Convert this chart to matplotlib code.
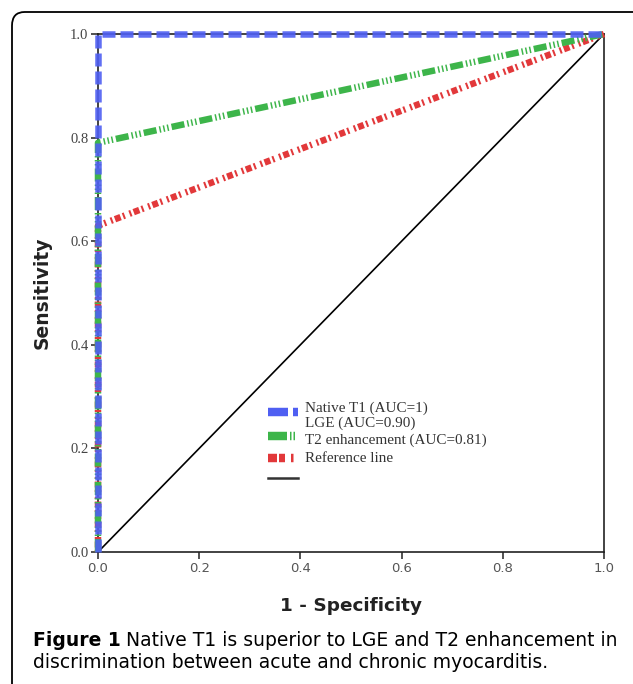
import matplotlib
matplotlib.use("Agg")
import matplotlib.pyplot as plt
from matplotlib.patches import FancyBboxPatch

plt.rcParams['lines.scale_dashes'] = False

# ROC curves (1 - specificity, sensitivity)
native_x = [0.0, 0.0, 1.0]
native_y = [0.0, 1.0, 1.0]
lge_x = [0.0, 0.0, 1.0]
lge_y = [0.0, 0.79, 1.0]
t2_x = [0.0, 0.0, 1.0]
t2_y = [0.0, 0.63, 1.0]
ref_x = [0.0, 1.0]
ref_y = [0.0, 1.0]

legend_labels = ['Native T1 (AUC=1)', 'LGE (AUC=0.90)',
                 'T2 enhancement (AUC=0.81)', 'Reference line']
ticks = [0.0, 0.2, 0.4, 0.6, 0.8, 1.0]

blue = '#4f5ff2'
green = '#3db54a'
red = '#e2383a'

PX = 0.72  # points per pixel at dpi 100
lw = 6.5 * PX
blue_dash = [13 * PX, 5 * PX]
green_dash = [13 * PX, 3 * PX, 1.5 * PX, 2.5 * PX, 1.5 * PX, 2.5 * PX, 1.5 * PX, 3 * PX]
red_dash = [2 * PX, 2.5 * PX, 6 * PX, 2.5 * PX, 2 * PX, 5 * PX]

fig = plt.figure(figsize=(6.33, 6.84), dpi=100)

# rounded frame around the figure (right and bottom edges run off the image)
frame = FancyBboxPatch((12 / 633, -0.05), 1.2, 1 - 12 / 684 + 0.05,
                       boxstyle='round,pad=0,rounding_size=0.02',
                       transform=fig.transFigure, fill=False,
                       edgecolor='black', linewidth=1.3, clip_on=False)
fig.patches.append(frame)

ax = fig.add_axes([98 / 633, 1 - 552 / 684, 506 / 633, 518 / 684])

ax.plot(ref_x, ref_y, color='black', linewidth=1.2, zorder=2)
ax.plot(t2_x, t2_y, color=red, linewidth=lw, dashes=red_dash, clip_on=False, zorder=3)
ax.plot(lge_x, lge_y, color=green, linewidth=lw, dashes=green_dash, clip_on=False, zorder=4)
ax.plot(native_x, native_y, color=blue, linewidth=lw, dashes=blue_dash, clip_on=False,
        alpha=0.9, zorder=5)

ax.set_xlim(0, 1)
ax.set_ylim(0, 1)
ax.set_xticks(ticks)
ax.set_yticks(ticks)
ax.set_xticklabels([f'{t:.1f}' for t in ticks], fontsize=9.5, color='#555555')
ax.set_yticklabels([f'{t:.1f}' for t in ticks], family='Liberation Serif', fontsize=10.5, color='#444444')
ax.tick_params(direction='out', length=5, width=1.2, color='#333333', pad=2)
for s in ax.spines.values():
    s.set_linewidth(1.2)
    s.set_color('#222222')

ax.set_xlabel('1 - Specificity', fontsize=13.3, fontweight='bold', color='#222222', labelpad=16)
ax.set_ylabel('Sensitivity', fontsize=13.5, fontweight='bold', color='#222222', labelpad=13)

# legend drawn by hand (symbols and labels sit slightly out of step, as in the original)
sx0, sx1 = 0.336, 0.395
ax.plot([sx0, sx1], [0.270, 0.270], transform=ax.transAxes, color=blue, linewidth=lw * 1.3,
        dashes=[20 * PX, 5 * PX, 6 * PX, 50 * PX], clip_on=False, zorder=6)
ax.plot([sx0, sx1], [0.224, 0.224], transform=ax.transAxes, color=green, linewidth=lw * 1.3,
        dashes=[19 * PX, 3 * PX, 1.5 * PX, 2 * PX, 1.5 * PX, 30 * PX], clip_on=False, zorder=6)
ax.plot([sx0, sx1], [0.181, 0.181], transform=ax.transAxes, color=red, linewidth=lw * 1.3,
        dashes=[9 * PX, 2 * PX, 6 * PX, 6 * PX, 2.5 * PX, 30 * PX], clip_on=False, zorder=6)
ax.plot([sx0, sx1], [0.143, 0.143], transform=ax.transAxes, color='#333333', linewidth=1.8,
        clip_on=False, zorder=6)

text_y = [0.278, 0.249, 0.216, 0.181]
for label, y in zip(legend_labels, text_y):
    ax.text(0.409, y, label, transform=ax.transAxes, family='Liberation Serif',
            fontsize=10.9, color='#333333', va='center', ha='left')

# caption
cap1 = fig.text(33 / 633, 1 - 640 / 684, 'Figure 1', fontsize=13.5, fontweight='bold',
                va='center', ha='left')
fig.canvas.draw()
bb = cap1.get_window_extent()
fig.text((bb.x1 + 5) / 633, 1 - 640 / 684,
         'Native T1 is superior to LGE and T2 enhancement in',
         fontsize=13.5, va='center', ha='left')
fig.text(33 / 633, 1 - 663 / 684, 'discrimination between acute and chronic myocarditis.',
         fontsize=13.5, va='center', ha='left')

fig.savefig('out.png', dpi=100)
